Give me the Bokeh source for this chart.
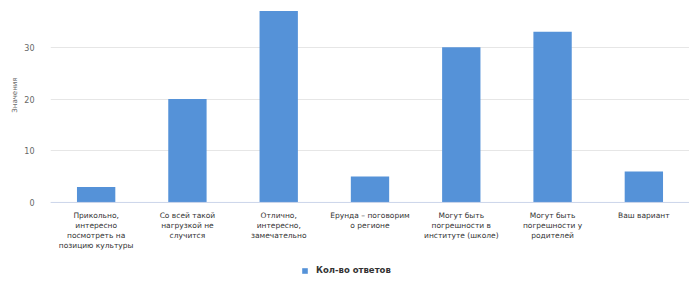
from bokeh.plotting import figure
from bokeh.models import ColumnDataSource, FactorRange, Legend, LegendItem, Range1d, FixedTicker, Span, Title
from bokeh.core.properties import value
from bokeh.embed import file_html
from bokeh.resources import INLINE

categories = [
    "Прикольно,\nинтересно\nпосмотреть на\nпозицию культуры",
    "Со всей такой\nнагрузкой не\nслучится",
    "Отлично,\nинтересно,\nзамечательно",
    "Ерунда – поговорим\nо регионе",
    "Могут быть\nпогрешности в\nинституте (школе)",
    "Могут быть\nпогрешности у\nродителей",
    "Ваш вариант",
]
values = [3, 20, 37, 5, 30, 33, 6]
series_name = "Кол-во ответов"
y_title = "Значения"
y_ticks = [0, 10, 20, 30]

FONT = "DejaVu Sans"
BLUE = "#5592d8"

src = ColumnDataSource(dict(cat=categories, val=values, zero=[0] * len(values)))

p = figure(
    width=689, height=281,
    x_range=FactorRange(*categories, range_padding=0),
    y_range=Range1d(-14.9, 37.5),
    output_backend="svg", toolbar_location=None,
    min_border_left=50, min_border_right=0, min_border_top=8, min_border_bottom=2,
)
p.outline_line_color = None

r = p.vbar(x="cat", top="val", width=0.42, source=src, color=BLUE, line_color=None)

# category labels under the baseline
p.text(x="cat", y="zero", text="cat", source=src, y_offset=9,
       text_align="center", text_baseline="top",
       text_font=value(FONT), text_font_size="7.5px", text_color="#333333",
       text_line_height=1.1)

p.add_layout(Span(location=0, dimension="width", line_color="#ccd6eb", line_width=1))

p.xaxis.visible = False
p.xgrid.grid_line_color = None
p.ygrid.grid_line_color = "#e6e6e6"
p.ygrid.ticker = FixedTicker(ticks=y_ticks)

p.yaxis.ticker = FixedTicker(ticks=y_ticks)
p.yaxis.axis_line_color = None
p.yaxis.major_tick_line_color = None
p.yaxis.minor_tick_line_color = None
p.yaxis.major_label_text_font = FONT
p.yaxis.major_label_text_font_size = "8px"
p.yaxis.major_label_text_color = "#666666"
p.yaxis.major_label_standoff = 10

p.add_layout(Title(text=y_title, align="right", offset=69, text_font=FONT,
                   text_font_size="7px", text_font_style="normal",
                   text_color="#666666", standoff=6), "left")

legend = Legend(items=[LegendItem(label=series_name, renderers=[r])],
                location=(251, 4), orientation="horizontal")
legend.label_text_font = FONT
legend.label_text_font_size = "8.5px"
legend.label_text_font_style = "bold"
legend.label_text_color = "#333333"
legend.glyph_width = 7
legend.glyph_height = 7
legend.label_standoff = 8
legend.border_line_color = None
legend.background_fill_alpha = 0
legend.margin = 0
legend.padding = 4
p.add_layout(legend, "center")

open("out.html", "w").write(file_html(p, INLINE))
